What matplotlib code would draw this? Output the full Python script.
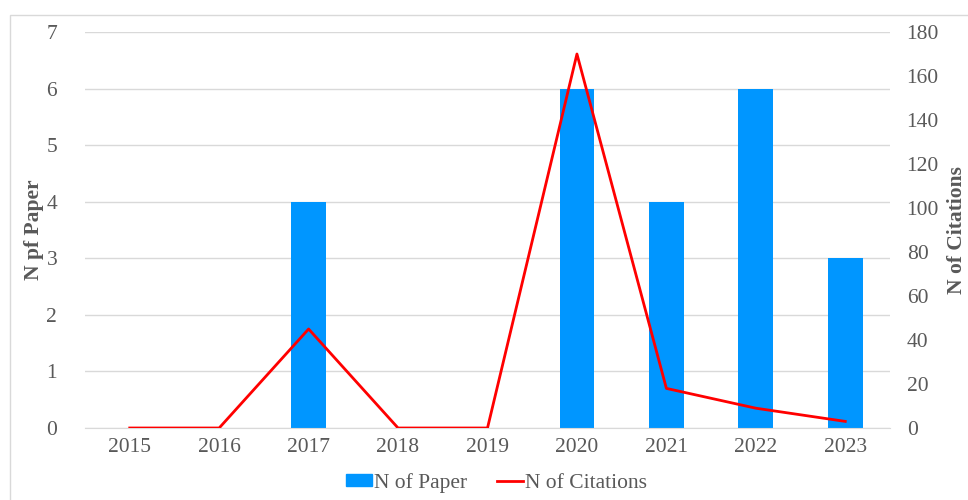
#!/usr/bin/env python3

import matplotlib
matplotlib.use('Agg')
import matplotlib.pyplot as plt
import matplotlib.patches as mpatches
import matplotlib.lines as mlines
import numpy as np

years = ['2015', '2016', '2017', '2018', '2019', '2020', '2021', '2022', '2023']
n_paper = [0, 0, 4, 0, 0, 6, 4, 6, 3]
n_citations = [0, 0, 45, 0, 0, 170, 18, 9, 3]

plt.rcParams['font.family'] = ['Liberation Serif', 'DejaVu Serif']
grey = '#595959'
fs = 15.5

fig = plt.figure(figsize=(9.68, 5.0), dpi=100)
axes = fig.add_axes([85 / 968, 1 - 428 / 500, 805 / 968, 396 / 500])

x = np.arange(len(years))

# figure frame, cropped at right and bottom like the original
fig.patches.append(mpatches.Rectangle((10 / 968, -0.1), 1.1, 1 - 15 / 500 + 0.1,
                                      transform=fig.transFigure, fill=False,
                                      edgecolor='#d9d9d9', linewidth=1))

# bars: number of papers
axes.bar(x, n_paper, width=0.39, color='#0096ff', zorder=2)
axes.set_ylim(0, 7)
axes.set_xlim(-0.5, len(years) - 0.5)
axes.set_yticks(range(0, 8))
axes.set_xticks(x)
axes.set_xticklabels(years)
axes.grid(axis='y', color='#d9d9d9', linewidth=1, zorder=0)
axes.set_axisbelow(True)
for side in ['top', 'right', 'left']:
    axes.spines[side].set_visible(False)
axes.spines['bottom'].set_color('#d9d9d9')
axes.tick_params(axis='both', length=0, labelsize=fs, labelcolor=grey)
axes.tick_params(axis='x', pad=7)
axes.tick_params(axis='y', pad=20)
axes.set_ylabel('N pf Paper', fontsize=fs, fontweight='bold', color=grey, labelpad=2)

# line: number of citations
axes2 = axes.twinx()
axes2.plot(x, n_citations, c='#ff0000', linewidth=2, zorder=3)
axes2.set_ylim(0, 180)
axes2.set_yticks(range(0, 181, 20))
for side in ['top', 'right', 'left', 'bottom']:
    axes2.spines[side].set_visible(False)
axes2.tick_params(axis='y', length=0, labelsize=fs, labelcolor=grey, pad=12)
axes2.set_ylabel('N of Citations', fontsize=fs, fontweight='bold', color=grey,
                 rotation=90, labelpad=6)

bar_legend = mpatches.Patch(color='#0096ff', label='N of Paper')
line_legend = mlines.Line2D([], [], color='#ff0000', linewidth=2, label='N of Citations')
fig.legend(handles=[bar_legend, line_legend], loc='center', bbox_to_anchor=(0.513, 1 - 483 / 500),
           ncol=2, frameon=False, fontsize=fs, labelcolor=grey, handlelength=1.2,
           handleheight=0.5, handletextpad=0.1, columnspacing=1.4)

fig.savefig('out.png', dpi=100)
